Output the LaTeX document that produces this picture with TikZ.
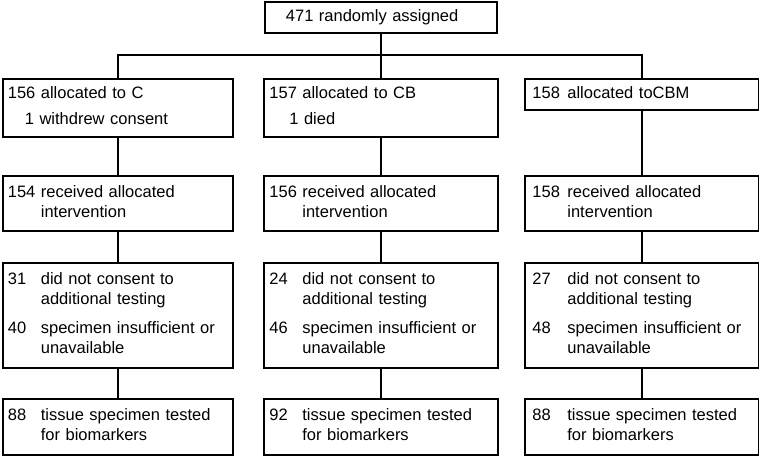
\documentclass[tikz,border=0pt]{standalone}
\usepackage{fontspec}
\setmainfont{Liberation Sans}
\usepackage{array}

\newcommand{\numtab}[2][33pt]{\begin{tabular}{@{}p{#1}@{}l@{}}#2\end{tabular}}

\begin{document}
\begin{tikzpicture}[
     x = 1pt, y = -1pt,
     font = \fontsize{16.5}{20}\selectfont,
     box/.style = {draw, line width = 1.8pt, anchor = north west,
                   inner ysep = 0pt, align = left},
     colC/.style = {box, inner xsep = 5pt, text width = 220pt},
     colCB/.style = {box, inner xsep = 5.5pt, text width = 223pt},
     colCBM/.style = {box, inner xsep = 7.5pt, text width = 219pt},
     link/.style = {line width = 1.8pt}
    ]

    \useasboundingbox (0,0) rectangle (759,455);

    \node [box, inner xsep = 21pt, text width = 190pt, minimum height = 31pt]
      (assigned) at (264,1) {471 randomly assigned};

    % allocation
    \node [colC, minimum height = 58pt] (allocC) at (2,78)
      {\numtab{156 & allocated to C\\[6pt]
       \multicolumn{2}{@{\hspace{17pt}}l@{}}{1 withdrew consent}}};
    \node [colCB, minimum height = 58pt] (allocCB) at (263,78)
      {\numtab{157 & allocated to CB\\[6pt]
       \multicolumn{2}{@{\hspace{20pt}}l@{}}{1 died}}};
    \node [colCBM, minimum height = 31pt] (allocCBM) at (524,78)
      {\numtab[35pt]{158 & allocated toCBM}};

    % intervention
    \node [colC, minimum height = 55pt] (recvC) at (2,175)
      {\numtab{154 & received allocated\\ & intervention}};
    \node [colCB, minimum height = 55pt] (recvCB) at (263,175)
      {\numtab{156 & received allocated\\ & intervention}};
    \node [colCBM, minimum height = 55pt] (recvCBM) at (524,175)
      {\numtab[35pt]{158 & received allocated\\ & intervention}};

    % excluded
    \node [colC, minimum height = 105pt] (exclC) at (2,262)
      {\numtab{31 & did not consent to\\ & additional testing\\[9pt]
       40 & specimen insufficient or\\ & unavailable}};
    \node [colCB, minimum height = 105pt] (exclCB) at (263,262)
      {\numtab{24 & did not consent to\\ & additional testing\\[9pt]
       46 & specimen insufficient or\\ & unavailable}};
    \node [colCBM, minimum height = 105pt] (exclCBM) at (524,262)
      {\numtab[35pt]{27 & did not consent to\\ & additional testing\\[9pt]
       48 & specimen insufficient or\\ & unavailable}};

    % tested
    \node [colC, minimum height = 56pt] (testC) at (2,398)
      {\numtab{88 & tissue specimen tested\\ & for biomarkers}};
    \node [colCB, minimum height = 56pt] (testCB) at (263,398)
      {\numtab{92 & tissue specimen tested\\ & for biomarkers}};
    \node [colCBM, minimum height = 56pt] (testCBM) at (524,398)
      {\numtab[35pt]{88 & tissue specimen tested\\ & for biomarkers}};

    \coordinate (split) at (assigned.south |- 0,55);
    \draw [link] (assigned.south) -- (allocCB.north);
    \draw [link] (allocC.north) |- (split) -| (allocCBM.north);

    \draw [link] (allocC.south) -- (recvC.north);
    \draw [link] (allocCB.south) -- (recvCB.north);
    \draw [link] (allocCBM.south) -- (recvCBM.north);
    \draw [link] (recvC.south) -- (exclC.north);
    \draw [link] (recvCB.south) -- (exclCB.north);
    \draw [link] (recvCBM.south) -- (exclCBM.north);
    \draw [link] (exclC.south) -- (testC.north);
    \draw [link] (exclCB.south) -- (testCB.north);
    \draw [link] (exclCBM.south) -- (testCBM.north);

\end{tikzpicture}
\end{document}
